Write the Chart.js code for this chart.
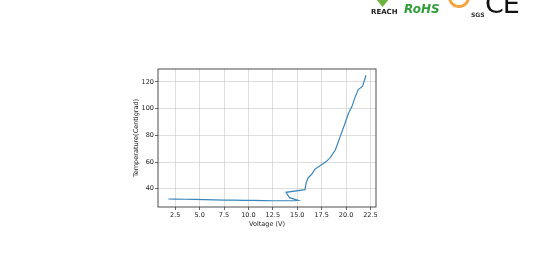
<!DOCTYPE html>
<html>
<head>
<meta charset="utf-8">
<script src="https://cdn.jsdelivr.net/npm/chart.js@4"></script>
<style>
  html, body { margin: 0; padding: 0; background: #fff; }
  #wrap { position: relative; width: 540px; height: 272px; overflow: hidden; font-family: "DejaVu Sans", sans-serif; }
  #myChart { position: absolute; left: 0; top: 0; }
  .logo { position: absolute; white-space: nowrap; }
  #reach { left: 371px; top: 8px; font-size: 7px; font-weight: bold; color: #222; }
  #reachMark { left: 374px; top: -11px; font-size: 19px; color: #6cb33f; }
  #rohs { left: 404px; top: 2px; font-size: 12px; font-weight: bold; font-style: italic; color: #2f9e3a; }
  #sgsMark { left: 448px; top: -14px; width: 16px; height: 16px; border: 3px solid #f2a541; border-radius: 50%; }
  #sgs { left: 471px; top: 11px; font-size: 6px; font-weight: bold; color: #333; }
  #ce { left: 485px; top: -12px; font-size: 27px; color: #111; letter-spacing: -1px; }
</style>
</head>
<body>
<div id="wrap">
  <canvas id="myChart" width="540" height="272"></canvas>
  <span class="logo" id="reachMark">&#9829;</span>
  <span class="logo" id="reach">REACH</span>
  <span class="logo" id="rohs">RoHS</span>
  <div class="logo" id="sgsMark"></div>
  <span class="logo" id="sgs">SGS</span>
  <span class="logo" id="ce">CE</span>
</div>
<script>
// measured curve, in the order it was recorded
let voltage = [1.8, 2.5, 3.5, 4.5, 5.5, 6.5, 7.5, 8.5, 9.5, 10.5, 11.5, 12.5, 13.5, 14.5, 15.1,
    14.2, 13.85, 15.8, 15.9, 16.1, 16.5, 16.8, 17.4, 18.0, 18.4, 18.9, 19.4, 19.9, 20.25,
    20.6, 20.95, 21.25, 21.7, 22.05];
let temperature = [32.3, 32.2, 32.1, 32.0, 31.8, 31.6, 31.5, 31.4, 31.3, 31.2, 31.1, 31.0, 31.0, 31.0, 31.3,
    33.3, 37.3, 39.3, 44.0, 48.0, 51.0, 54.5, 57.5, 60.5, 63.5, 69.0, 79.0, 89.0, 96.5,
    101.5, 109.0, 114.3, 116.8, 125.0];

let xTicks = [2.5, 5.0, 7.5, 10.0, 12.5, 15.0, 17.5, 20.0, 22.5];
let yTicks = [40, 60, 80, 100, 120];

let points = voltage.map((v, i) => ({x: v, y: temperature[i]}));

/**
 * Draw the box round the plot area, like matplotlib does
 */
const frame = {
    id: "frame",
    afterDraw(chart) {
        const a = chart.chartArea;
        const ctx = chart.ctx;
        ctx.save();
        ctx.strokeStyle = "#3a3a3a";
        ctx.lineWidth = 0.9;
        ctx.strokeRect(a.left, a.top, a.right - a.left, a.bottom - a.top);
        ctx.restore();
    }
};

const tickFont = {family: "DejaVu Sans", size: 6.5};

new Chart("myChart", {
    type: "scatter",
    data: {
        datasets: [{
            data: points,
            showLine: true,
            borderColor: "#3b86bb",
            borderWidth: 1.2,
            pointRadius: 0,
            tension: 0
        }]
    },
    options: {
        responsive: false,
        animation: false,
        layout: {padding: {left: 132, top: 69, right: 164, bottom: 44}},
        plugins: {legend: {display: false}, tooltip: {enabled: false}},
        scales: {
            x: {
                type: "linear",
                min: 0.735,
                max: 23.07,
                afterBuildTicks: (s) => { s.ticks = xTicks.map(v => ({value: v})); },
                afterFit: (s) => { s.height = 21; },
                ticks: {
                    font: tickFont, color: "#222", padding: 1, maxRotation: 0,
                    callback: (v) => Number(v).toFixed(1)
                },
                grid: {color: "#d6d6d6", tickColor: "#444", tickLength: 3, lineWidth: 0.8},
                border: {display: false},
                title: {display: true, text: "Voltage (V)", font: tickFont, color: "#222", padding: {top: 1, bottom: 0}}
            },
            y: {
                type: "linear",
                min: 26.3,
                max: 129.7,
                afterBuildTicks: (s) => { s.ticks = yTicks.map(v => ({value: v})); },
                afterFit: (s) => { s.width = 26; },
                ticks: {font: tickFont, color: "#222", padding: 1},
                grid: {color: "#d6d6d6", tickColor: "#444", tickLength: 3, lineWidth: 0.8},
                border: {display: false},
                title: {display: true, text: "Temperature(Centigrad)", font: tickFont, color: "#222", padding: {top: 0, bottom: 2}}
            }
        }
    },
    plugins: [frame]
});
</script>
</body>
</html>
